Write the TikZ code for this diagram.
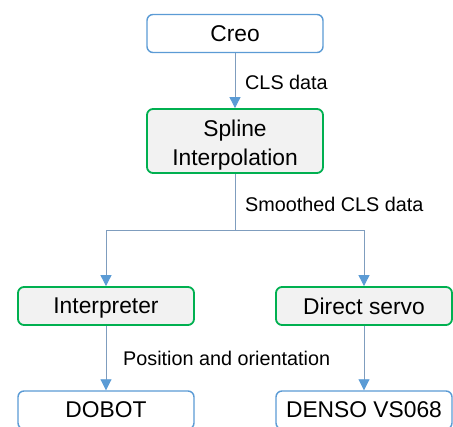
\documentclass[tikz,border=0pt]{standalone}
\usepackage{fontspec}
\setmainfont{Liberation Sans}
\usetikzlibrary{arrows.meta}
\definecolor{boxblue}{HTML}{5B9BD5}
\definecolor{boxgreen}{HTML}{00B050}
\definecolor{boxgray}{HTML}{F2F2F2}
\definecolor{wireblue}{HTML}{7F9DBE}
\newcommand{\lowered}[2][4.5pt]{\raisebox{-#1}[\height][\depth]{#2}}

\begin{document}
\begin{tikzpicture}[x=1pt,y=-1pt,
	bluebox/.style={draw=boxblue, line width=1.4pt, rounded corners=6pt, fill=white,
		minimum width=176pt, minimum height=38pt, inner sep=0pt, font=\fontsize{22.8}{29}\selectfont},
	greenbox/.style={bluebox, draw=boxgreen, line width=1.8pt, fill=boxgray},
	wire/.style={draw=wireblue, line width=0.9pt},
	flow/.style={wire, -{Triangle[width=11pt,length=11pt,color=boxblue]}},
	lbl/.style={anchor=base west, inner sep=0pt, font=\fontsize{19.8}{22}\selectfont}]
	\useasboundingbox (0,0) rectangle (453,427);
	%Boxes
	\node[bluebox] (creo) at (235,33.5) {Creo};
	\node[greenbox, minimum height=64pt, align=center] (spline) at (235,141) {\lowered{Spline}\\\lowered{Interpolation}};
	\node[greenbox] (interp) at (106,306) {\lowered[2pt]{Interpreter}};
	\node[greenbox] (direct) at (364,306) {Direct servo};
	\node[bluebox] (dobot) at (106,410) {DOBOT};
	\node[bluebox] (denso) at (364,410) {DENSO VS068};
	\coordinate (fork) at (235,230);
	%Connectors
	\draw[flow] (creo) -- (spline);
	\draw[wire] (spline) -- (fork);
	\foreach \n in {interp,direct}
	{\draw[flow] (fork) -| (\n);}
	\draw[flow] (interp) -- (dobot);
	\draw[flow] (direct) -- (denso);
	%Labels
	\node[lbl] (clslbl) at (245,90) {CLS data};
	\node[lbl] (smoothlbl) at (245,212) {Smoothed CLS data};
	\node[lbl] (poslbl) at (123,366) {Position and orientation};
\end{tikzpicture}
\end{document}
